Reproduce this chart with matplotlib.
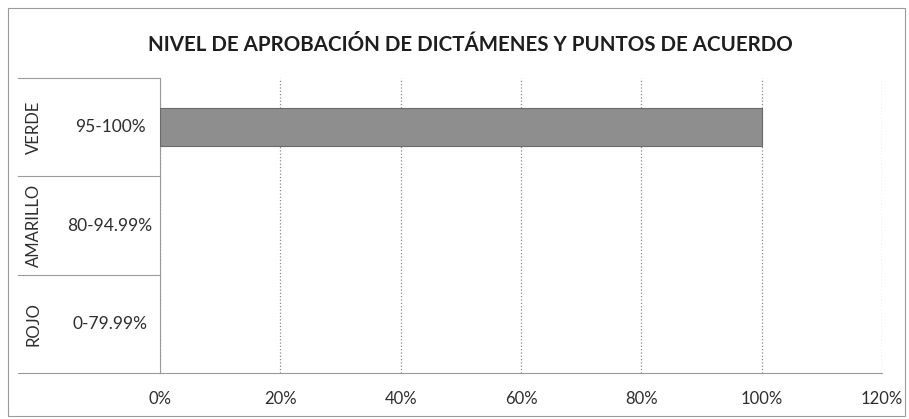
import matplotlib.pyplot as plt
import matplotlib.transforms as mtransforms
from matplotlib.patches import Rectangle
from matplotlib.ticker import FuncFormatter

# Data
groups = ["VERDE", "AMARILLO", "ROJO"]
ranges = ["95-100%", "80-94.99%", "0-79.99%"]
values = [1.0, 0.0, 0.0]
xticks = [0, 0.2, 0.4, 0.6, 0.8, 1.0, 1.2]

plt.rcParams['font.family'] = ['Lato', 'DejaVu Sans']
text_color = "#2e2e2e"

fig = plt.figure(figsize=(9.09, 4.19), dpi=100)
W, H = 909, 419

# chart border
fig.patches.append(Rectangle((8 / W, 3 / H), 897 / W, 408 / H, transform=fig.transFigure,
                             fill=False, edgecolor="#9a9a9a", linewidth=0.8))

ax = fig.add_axes([160 / W, 46 / H, 722 / W, 295 / H])

ypos = [2, 1, 0]  # VERDE on top
widths = [0.8 if v > 0 else 0 for v in values]
ax.barh(ypos, values, height=0.39, color="#8e8e8e", edgecolor="#6a6a6a", linewidth=widths, zorder=3)

ax.set_xlim(0, 1.2)
ax.set_ylim(-0.5, 2.5)
ax.set_xticks(xticks)
ax.xaxis.set_major_formatter(FuncFormatter(lambda v, p: f"{v * 100:.0f}%"))
ax.tick_params(axis="x", length=0, pad=13, labelsize=12, labelcolor=text_color)
ax.set_yticks([])
ax.grid(axis="x", color="#8a8a8a", linestyle=":", linewidth=0.9, zorder=0)

for s in ["top", "right"]:
    ax.spines[s].set_visible(False)
ax.spines["bottom"].set_color("#9a9a9a")
ax.spines["bottom"].set_linewidth(0.8)
ax.spines["left"].set_color("#9a9a9a")
ax.spines["left"].set_linewidth(0.8)

# category table on the left
blend = mtransforms.blended_transform_factory(fig.transFigure, ax.transData)
for b in [2.5, 1.5, 0.5, -0.5]:
    ax.plot([18 / W, 160 / W], [b, b], transform=blend, color="#9a9a9a",
            linewidth=0.8, clip_on=False)

for g, r, y in zip(groups, ranges, ypos):
    ax.text(34 / W, y, g, transform=blend, rotation=90, ha="center", va="center",
            fontsize=12, color=text_color)
    ax.text(110 / W, y, r, transform=blend, ha="center", va="center",
            fontsize=12.5, color=text_color)

fig.text(470 / W, 1 - 45 / H, "NIVEL DE APROBACIÓN DE DICTÁMENES Y PUNTOS DE ACUERDO",
         ha="center", va="center", fontsize=14.8, fontweight="bold", color="#1e1e1e")

fig.savefig("out.png", dpi=100)
